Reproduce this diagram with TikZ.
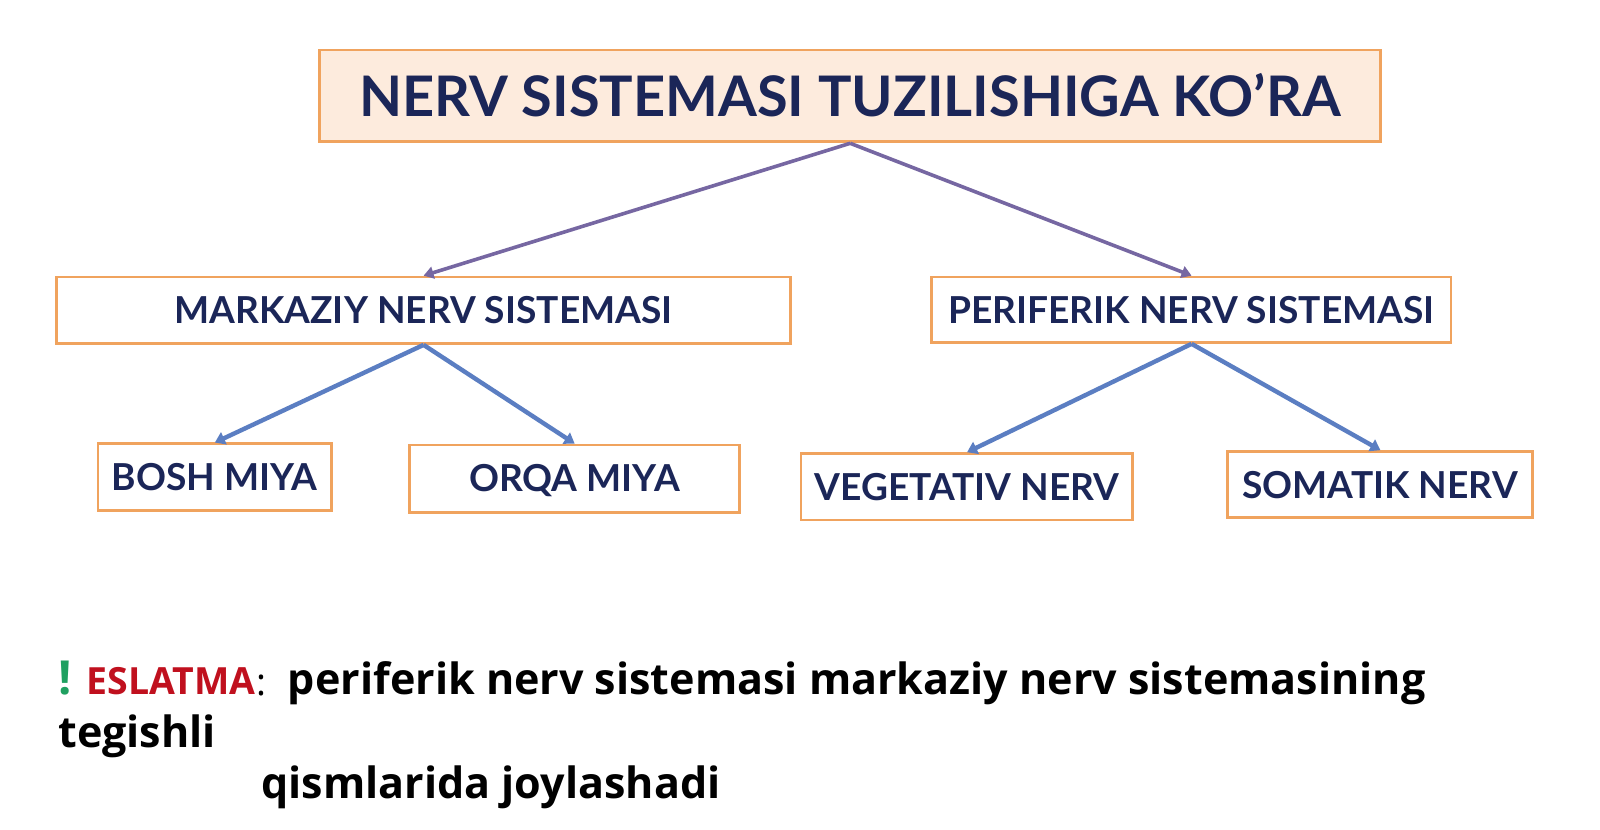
\documentclass[tikz,border=0pt]{standalone}
\usepackage{fontspec}
\setmainfont{Lato}
\newfontfamily\notefont{Open Sans}
\usetikzlibrary{arrows.meta}
\definecolor{boxorange}{HTML}{F0A35E}
\definecolor{peach}{HTML}{FDEBDD}
\definecolor{navy}{HTML}{1B2658}
\definecolor{purp}{HTML}{7667A2}
\definecolor{blu}{HTML}{5B7EC2}
\definecolor{redtxt}{HTML}{C0101E}
\definecolor{greentxt}{HTML}{1FA060}
\tikzset{
  box/.style={draw=boxorange, line width=2.8pt, fill=white, inner sep=0pt, text=navy,
    text height=26.2pt, text depth=0pt, font=\bfseries\fontsize{36.4}{40}\selectfont},
  topbox/.style={box, fill=peach, text height=39.5pt, font=\bfseries\fontsize{54.8}{60}\selectfont},
  parr/.style={draw=purp, line width=3.6pt, -{Triangle[length=10pt,width=12pt]}},
  barr/.style={draw=blu, line width=4.4pt, -{Triangle[length=10pt,width=13pt]}},
  notetext/.style={anchor=base west, inner sep=0pt, font=\notefont\bfseries\fontsize{42.2}{44}\selectfont},
}
\begin{document}
\begin{tikzpicture}[x=1pt,y=-1pt]
\begin{scope}[scale=1.020408, every node/.append style={transform shape}]
\useasboundingbox (0,0) rectangle (1568,813.4);
\node[topbox, minimum width=1040pt, minimum height=90pt] (top) at (833,94) {NERV SISTEMASI TUZILISHIGA KO’RA};
\node[box, minimum width=720pt, minimum height=65pt] (mark) at (415,304) {MARKAZIY NERV SISTEMASI};
\node[box, minimum width=509pt, minimum height=64pt] (peri) at (1167.5,303.5) {PERIFERIK NERV SISTEMASI};
\node[box, minimum width=229pt, minimum height=65pt] (bosh) at (210.5,467.5) {BOSH MIYA};
\node[box, minimum width=324pt, minimum height=66pt] (orqa) at (563,469) {ORQA MIYA};
\node[box, minimum width=325pt, minimum height=65pt] (vege) at (947.5,477) {VEGETATIV NERV};
\node[box, minimum width=299pt, minimum height=65pt] (soma) at (1352.5,475) {SOMATIK NERV};
\draw[parr] (top.south) -- (mark.north);
\draw[parr] (top.south) -- (peri.north);
\draw[barr] (mark.south) -- (bosh.north);
\draw[barr] (mark.south) -- (orqa.north);
\draw[barr] (peri.south) -- (vege.north);
\draw[barr] (peri.south) -- (soma.north);
\node[notetext, text=greentxt, font=\notefont\bfseries\fontsize{46}{48}\selectfont] (excl) at (57,681) {!};
\node[notetext, text=redtxt, font=\notefont\bfseries\fontsize{36.7}{40}\selectfont] (eslat) at (85,681) {ESLATMA};
\node[notetext, font=\notefont\fontsize{36.7}{40}\selectfont] (colon) at (eslat.base east) {:};
\node[notetext] (line1) at (282,681) {periferik nerv sistemasi markaziy nerv sistemasining};
\node[notetext] (line2) at (57,733) {tegishli};
\node[notetext] (line3) at (256,783) {qismlarida joylashadi};
\end{scope}
\end{tikzpicture}
\end{document}
